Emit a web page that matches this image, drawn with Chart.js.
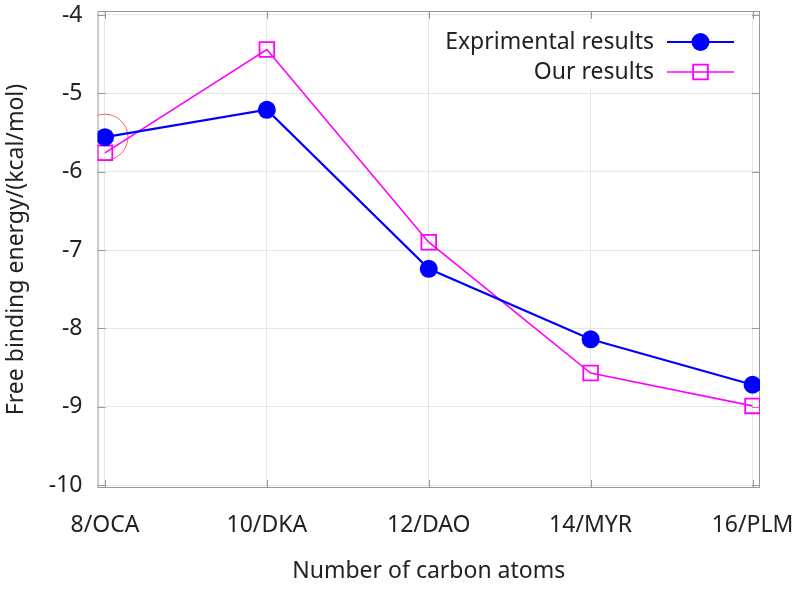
<!DOCTYPE html>
<html>
<head>
<meta charset="utf-8">
<script src="https://cdn.jsdelivr.net/npm/chart.js@4"></script>
<style>
  html, body { margin: 0; padding: 0; background: #fff; }
  #wrap { width: 800px; height: 589px; }
</style>
</head>
<body>
<div id="wrap"><canvas id="chart" width="800" height="589"></canvas></div>
<script>
// data
const categories = ['8/OCA', '10/DKA', '12/DAO', '14/MYR', '16/PLM'];
const experimental = [-5.56, -5.21, -7.24, -8.14, -8.72];
const ours = [-5.76, -4.44, -6.90, -8.57, -8.99];
const yTicks = [-10, -9, -8, -7, -6, -5, -4];
// the red circle marking the first point
const highlight = [{ x: 0, y: -5.56 }];

const textColor = '#222';
const fontFamily = "'Noto Sans', 'DejaVu Sans', sans-serif";
const fontSize = 23;

const toPoints = arr => arr.map((v, i) => ({ x: i, y: v }));

// no extra room for overflowing tick labels, layout padding decides
const noPad = s => { s.paddingLeft = 0; s.paddingRight = 0; s.paddingTop = 0; s.paddingBottom = 0; };

// frame + inward tick marks like gnuplot, and the legend
const framePlugin = {
    id: 'frame',
    beforeDatasetsDraw(chart) {
        const { ctx, chartArea: a, scales } = chart;
        ctx.save();
        ctx.strokeStyle = '#999';
        ctx.lineWidth = 1;
        ctx.strokeRect(a.left + 0.5, a.top + 0.5, a.right - a.left - 1, a.bottom - a.top - 1);
        ctx.beginPath();
        yTicks.forEach(v => {
            const y = Math.round(scales.y.getPixelForValue(v)) + 0.5;
            ctx.moveTo(a.left, y); ctx.lineTo(a.left + 8, y);
            ctx.moveTo(a.right, y); ctx.lineTo(a.right - 8, y);
        });
        categories.forEach((c, i) => {
            const x = Math.round(scales.x.getPixelForValue(i)) + 0.5;
            ctx.moveTo(x, a.bottom); ctx.lineTo(x, a.bottom - 8);
            ctx.moveTo(x, a.top); ctx.lineTo(x, a.top + 8);
        });
        ctx.stroke();

        // legend, sample line on the right of the text
        const sets = chart.data.datasets.filter(d => !d.hideInLegend);
        const textRight = a.right - 106;
        const lineL = a.right - 93, lineR = a.right - 26;
        ctx.fillStyle = '#fff';
        ctx.fillRect(textRight - 225, a.top + 12, lineR - textRight + 235, 66);
        ctx.font = fontSize + 'px ' + fontFamily;
        ctx.textAlign = 'right';
        ctx.textBaseline = 'middle';
        sets.forEach((d, i) => {
            const y = a.top + 31 + i * 30;
            ctx.fillStyle = textColor;
            ctx.fillText(d.label, textRight, y);
            ctx.strokeStyle = d.borderColor;
            ctx.lineWidth = d.borderWidth;
            ctx.beginPath();
            ctx.moveTo(lineL, y); ctx.lineTo(lineR, y);
            ctx.stroke();
            const mx = (lineL + lineR) / 2;
            if (d.pointStyle === 'circle') {
                ctx.fillStyle = d.borderColor;
                ctx.beginPath();
                ctx.arc(mx, y, d.pointRadius, 0, Math.PI * 2);
                ctx.fill();
            } else {
                const s = d.pointRadius * Math.SQRT1_2;
                ctx.lineWidth = d.pointBorderWidth;
                ctx.strokeRect(mx - s, y - s, 2 * s, 2 * s);
            }
        });
        ctx.restore();
    }
};

const ctx = document.getElementById('chart').getContext('2d');
const myChart = new Chart(ctx, {
    type: 'line',
    data: {
        datasets: [{
            label: 'Exprimental results',
            data: toPoints(experimental),
            borderColor: '#0000ff',
            backgroundColor: '#0000ff',
            borderWidth: 2.2,
            pointStyle: 'circle',
            pointRadius: 9,
            pointBorderWidth: 0,
            tension: 0
        }, {
            label: 'Our results',
            data: toPoints(ours),
            borderColor: '#ff00ff',
            backgroundColor: 'rgba(0,0,0,0)',
            borderWidth: 1.6,
            pointStyle: 'rect',
            pointRadius: 10.4,
            pointBorderWidth: 1.8,
            tension: 0
        }, {
            label: 'highlight',
            hideInLegend: true,
            data: highlight,
            showLine: false,
            borderColor: 'rgba(255,70,70,0.85)',
            backgroundColor: 'rgba(0,0,0,0)',
            pointStyle: 'circle',
            pointRadius: 23,
            pointBorderWidth: 1,
            clip: 0
        }]
    },
    options: {
        responsive: false,
        animation: false,
        layout: { autoPadding: false, padding: { top: 11, right: 40, left: 0, bottom: 0 } },
        plugins: {
            legend: { display: false },
            tooltip: { enabled: false }
        },
        scales: {
            x: {
                type: 'linear',
                min: -0.046,
                max: 4.046,
                afterBuildTicks: s => { s.ticks = categories.map((c, i) => ({ value: i })); },
                afterFit: s => { s.height = 101; noPad(s); },
                ticks: {
                    callback: (v) => categories[Math.round(v)],
                    color: textColor,
                    font: { family: fontFamily, size: fontSize },
                    padding: 24,
                    maxRotation: 0,
                    autoSkip: false
                },
                grid: { color: '#e6e6e6', drawTicks: false },
                border: { display: false },
                title: {
                    display: true,
                    text: 'Number of carbon atoms',
                    color: textColor,
                    font: { family: fontFamily, size: fontSize },
                    padding: { top: 20 }
                }
            },
            y: {
                min: -10.038,
                max: -3.949,
                afterBuildTicks: s => { s.ticks = yTicks.map(v => ({ value: v })); },
                afterFit: s => { s.width = 97.5; noPad(s); },
                ticks: {
                    color: textColor,
                    font: { family: fontFamily, size: fontSize },
                    padding: 15
                },
                grid: { color: '#e6e6e6', drawTicks: false },
                border: { display: false },
                title: {
                    display: true,
                    text: 'Free binding energy/(kcal/mol)',
                    color: textColor,
                    font: { family: fontFamily, size: fontSize },
                    padding: { top: 3, bottom: 0 }
                }
            }
        }
    },
    plugins: [framePlugin]
});
</script>
</body>
</html>
